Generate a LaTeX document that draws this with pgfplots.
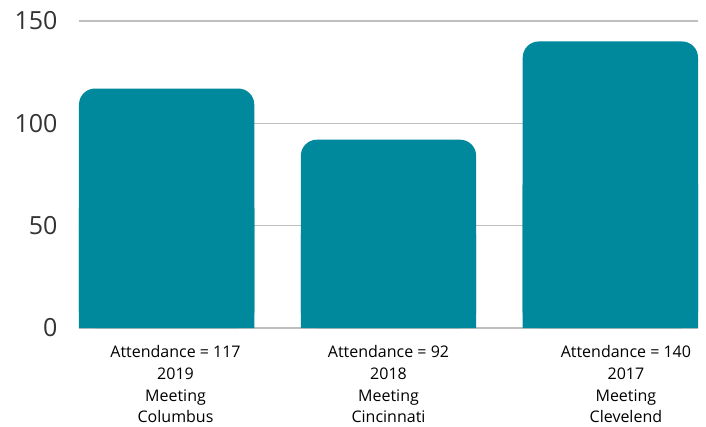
\documentclass[border=0pt]{standalone}
\usepackage{pgfplots}
\pgfplotsset{compat=1.18}
\usepackage{pgfplotstable}
\usepackage{fontspec}
\setmainfont{Open Sans}
\definecolor{barteal}{HTML}{00899D}
\definecolor{gridgray}{HTML}{BFBFBF}
\definecolor{txt}{HTML}{333333}
\pgfplotstableread{
x v
0 117
1 92
2 140
}\attend
\begin{document}
\begin{tikzpicture}[x=1pt,y=1pt]
\useasboundingbox (-79pt,-98pt) rectangle (627pt,328pt);
\fill[white] (-79pt,-98pt) rectangle (627pt,328pt);
\begin{axis}[
  at={(0,0)}, anchor=south west,
  scale only axis, width=619pt, height=307pt,
  xmin=-0.395, xmax=2.395, ymin=0, ymax=150,
  axis line style={draw=none},
  ytick={0,50,100,150},
  ymajorgrids, grid style={gridgray, line width=1.5pt},
  xtick={0.04,1,2.07},
  xticklabels={{Attendance = 117\\2019\\Meeting\\Columbus},{Attendance = 92\\2018\\Meeting\\Cincinnati},{Attendance = 140\\2017\\Meeting\\Clevelend}},
  xticklabel style={align=center, font=\fontsize{16}{21.7}\selectfont, text=black, anchor=north, yshift=-14pt},
  yticklabel style={font=\fontsize{25}{30}\selectfont, text=txt, anchor=east, xshift=-18pt},
  /pgf/number format/assume math mode=true,
  major tick length=0pt,
  ybar, bar shift=0pt, bar width=0.79,
  clip=false,
]
\addplot[fill=barteal, draw=none, rounded corners=16pt] table[x=x,y=v] {\attend};
\addplot[fill=barteal, draw=none] table[x=x,y expr=\thisrow{v}/2] {\attend};
\end{axis}
\end{tikzpicture}
\end{document}
